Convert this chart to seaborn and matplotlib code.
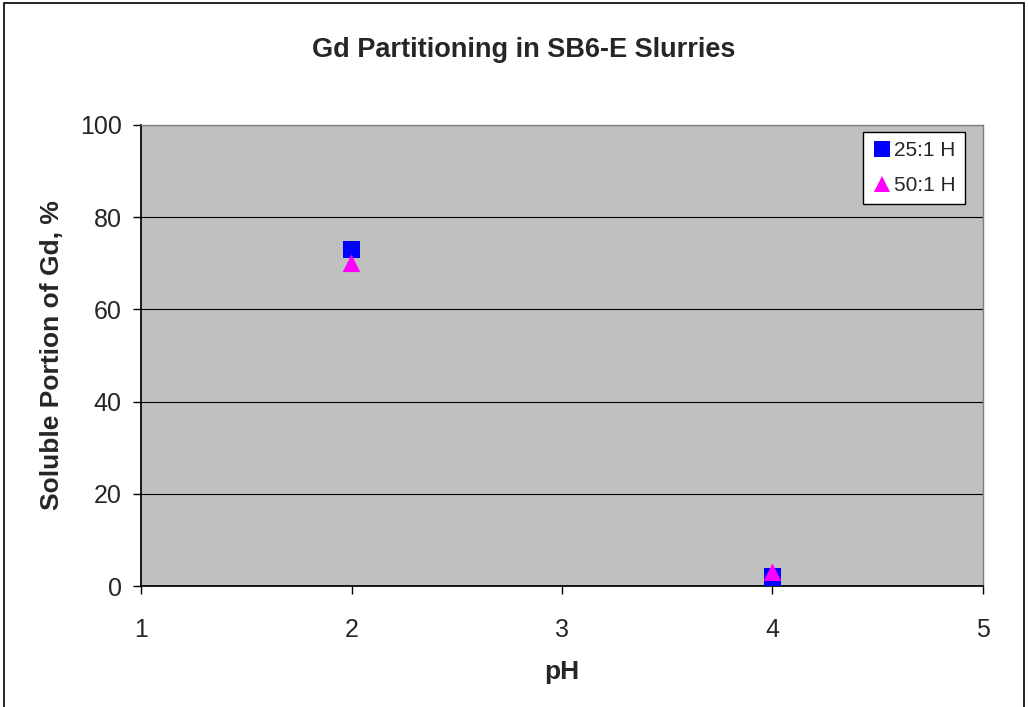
import matplotlib
matplotlib.use("Agg")
import matplotlib.pyplot as plt
import seaborn as sns
import pandas as pd
from matplotlib.patches import Rectangle

ph_25 = [2, 4]
sol_25 = [73, 2]
ph_50 = [2, 4]
sol_50 = [70, 3]
series_names = ["25:1 H", "50:1 H"]
x_ticks = [1, 2, 3, 4, 5]
y_ticks = [0, 20, 40, 60, 80, 100]

df = pd.DataFrame({
    "pH": ph_25 + ph_50,
    "sol": sol_25 + sol_50,
    "series": [series_names[0]] * len(ph_25) + [series_names[1]] * len(ph_50),
})

sns.set_theme(style="white")
plt.rcParams['font.family'] = ['Liberation Sans', 'DejaVu Sans']

fig = plt.figure(figsize=(10.28, 7.07), dpi=100)
ax = fig.add_axes([141/1028, 1 - 586/707, (983-141)/1028, (586-125)/707])
ax.set_facecolor("#C0C0C0")

sns.scatterplot(data=df, x="pH", y="sol", hue="series", style="series",
                palette={series_names[0]: "#0000FF", series_names[1]: "#FF00FF"},
                markers={series_names[0]: "s", series_names[1]: "^"},
                s=160, edgecolor="none", linewidth=0, ax=ax, zorder=3, legend=True)

ax.set_xlim(1, 5)
ax.set_ylim(0, 100)
ax.set_xticks(x_ticks)
ax.set_yticks(y_ticks)
ax.set_xticklabels([str(t) for t in x_ticks], fontsize=18)
ax.set_yticklabels([str(t) for t in y_ticks], fontsize=18)
ax.yaxis.grid(True, color="black", linewidth=0.8)
ax.set_axisbelow(True)
for side in ["top", "right"]:
    ax.spines[side].set_visible(True)
    ax.spines[side].set_color("#808080")
    ax.spines[side].set_linewidth(1)
ax.spines["left"].set_color("black")
ax.spines["bottom"].set_color("black")
ax.tick_params(axis="both", which="both", direction="out", length=6, width=1,
               color="black", bottom=True, left=True, pad=8)
ax.tick_params(axis="x", pad=17)

ax.set_xlabel("pH", fontsize=19, fontweight="bold", labelpad=13)
ax.set_ylabel("Soluble Portion of Gd, %", fontsize=19, fontweight="bold", labelpad=11)
fig.text(524/1028, 1 - 50/707, "Gd Partitioning in SB6-E Slurries",
         ha="center", va="center", fontsize=19.5, fontweight="bold")

leg = ax.legend(loc="upper right", bbox_to_anchor=(965/1028, 1 - 132/707),
                bbox_transform=fig.transFigure, fontsize=15, frameon=True,
                fancybox=False, edgecolor="black", framealpha=1, facecolor="white",
                handletextpad=0.15, borderpad=0.45, labelspacing=0.75, handlelength=0.9,
                borderaxespad=0, markerscale=0.95)
leg.get_frame().set_linewidth(1)
leg.set_title(None)

fig.patches.append(Rectangle((4/1028, -0.05), (1024-4)/1028, 1.05 - 3/707,
                             transform=fig.transFigure, fill=False,
                             edgecolor="black", linewidth=1.2))

fig.savefig("out.png", dpi=100, facecolor="white")
